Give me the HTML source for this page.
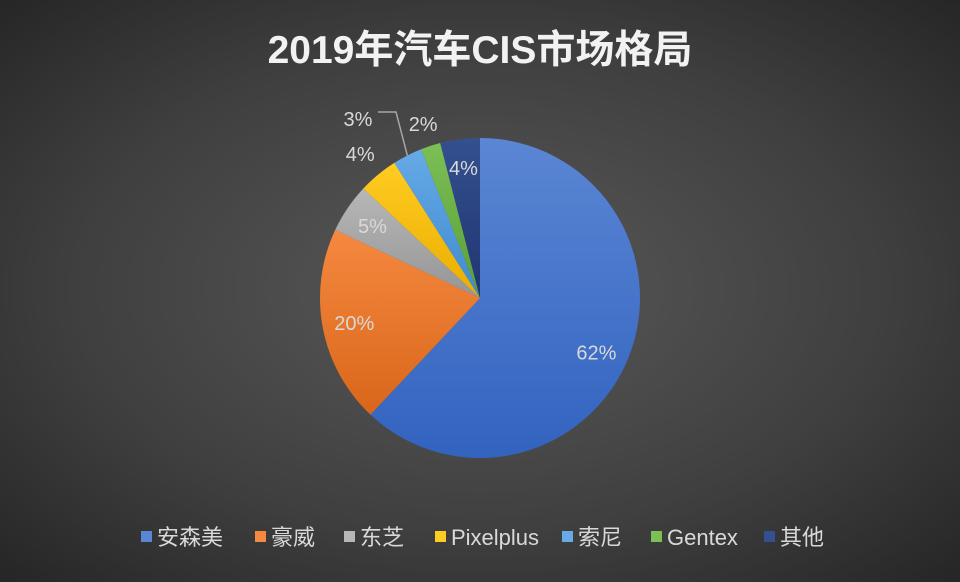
<!DOCTYPE html>
<html><head><meta charset="utf-8"><style>
body{margin:0;width:960px;height:577px;overflow:hidden;background:radial-gradient(ellipse at 50% 50%,#595959 0%,#3f3f3f 60%,#262626 100%);font-family:"Liberation Sans","Noto Sans CJK SC",sans-serif;}
</style></head><body>
<svg id="chart" width="960" height="577" xmlns="http://www.w3.org/2000/svg">
<defs id="defs"></defs>
<text x="480" y="63" text-anchor="middle" fill="#f2f2f2" font-size="39" font-weight="bold" font-family="Liberation Sans, Noto Sans CJK SC, sans-serif">2019年汽车CIS市场格局</text>
<g id="slices"></g><g id="labels"></g><g id="legend"></g>
</svg>
<script>
const categories=["安森美","豪威","东芝","Pixelplus","索尼","Gentex","其他"];
const values=[62,20,5,4,3,2,4];
const labels=["62%","20%","5%","4%","3%","2%","4%"];
const colors=[["#5b86d4","#3263c0"],["#f5893f","#d9661a"],["#b7b7b7","#959595"],["#ffcc22","#eaad00"],["#66aae6","#3f8ad0"],["#7cbf55","#5a9e38"],["#34508f","#1f3570"]];
const labelR=[128,128,130,188,0,184,132];
const cx=480,cy=298,R=160;
const ns="http://www.w3.org/2000/svg";
const total=values.reduce((a,b)=>a+b,0);
const defs=document.getElementById('defs'),gS=document.getElementById('slices'),gL=document.getElementById('labels'),gLeg=document.getElementById('legend');
function pt(a,r){return [cx+r*Math.sin(a*Math.PI/180),cy-r*Math.cos(a*Math.PI/180)];}
let cum=0;
values.forEach((v,i)=>{
  const a0=cum/total*360,a1=(cum+v)/total*360;cum+=v;
  const g=document.createElementNS(ns,'linearGradient');g.id='g'+i;g.setAttribute('x1','0');g.setAttribute('y1','0');g.setAttribute('x2','0');g.setAttribute('y2','1');
  g.innerHTML='<stop offset="0" stop-color="'+colors[i][0]+'"/><stop offset="1" stop-color="'+colors[i][1]+'"/>';defs.appendChild(g);
  const p0=pt(a0,R),p1=pt(a1,R);
  const p=document.createElementNS(ns,'path');
  p.setAttribute('d',`M${cx},${cy}L${p0[0]},${p0[1]}A${R},${R} 0 ${a1-a0>180?1:0} 1 ${p1[0]},${p1[1]}Z`);
  p.setAttribute('fill','url(#g'+i+')');
  
  
  gS.appendChild(p);
  const mid=(a0+a1)/2+(i===0?3:0);
  let lp=labelR[i]?pt(mid,labelR[i]):[358,118];
  if(!labelR[i]){const l=document.createElementNS(ns,'polyline');const e=pt(mid,R);l.setAttribute('points',`${lp[0]+20},${lp[1]-6} ${lp[0]+38},${lp[1]-6} ${e[0]},${e[1]}`);l.setAttribute('fill','none');l.setAttribute('stroke','#a6a6a6');l.setAttribute('stroke-width','1.5');
  
  
  gL.appendChild(l);}
  const t=document.createElementNS(ns,'text');t.setAttribute('x',lp[0]);t.setAttribute('y',lp[1]+8);t.setAttribute('text-anchor','middle');t.setAttribute('fill','#d9d9d9');t.setAttribute('font-size','20');t.textContent=labels[i];
  
  
  gL.appendChild(t);
});
const legX=[141,255,344,435,562,651,764];
categories.forEach((c,i)=>{
  const r=document.createElementNS(ns,'rect');r.setAttribute('x',legX[i]);r.setAttribute('y',531);r.setAttribute('width',11);r.setAttribute('height',11);r.setAttribute('fill',colors[i][0]);
  
  
  gLeg.appendChild(r);
  const t=document.createElementNS(ns,'text');t.setAttribute('x',legX[i]+16);t.setAttribute('y',545);t.setAttribute('fill','#d9d9d9');t.setAttribute('font-size','22');t.textContent=c;
  
  
  gLeg.appendChild(t);
});
</script>
</body></html>
